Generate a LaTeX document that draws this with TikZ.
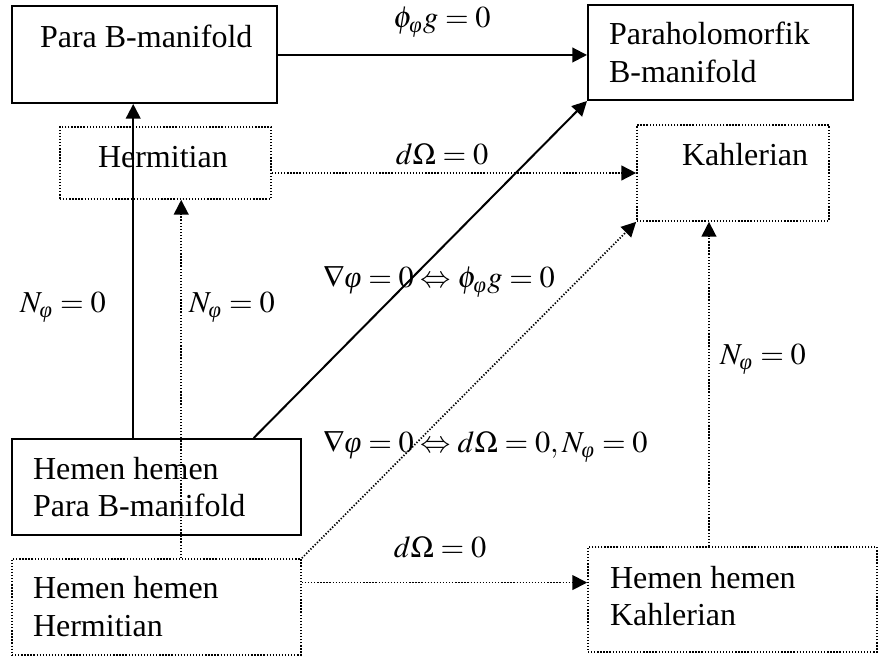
\documentclass[tikz,border=0pt]{standalone}
\usepackage{amsmath}
\usepackage{mathptmx}
\usepackage[no-math]{fontspec}
\setmainfont{Liberation Serif}
\usetikzlibrary{arrows.meta,fit,calc}
\newcommand{\vph}{\text{\itshape φ}}
\tikzset{
  solidbox/.style={draw, line width=0.75pt, inner sep=0pt},
  dotbox/.style={draw, line width=0.65pt, dash pattern=on 0.5pt off 0.65pt, inner sep=0pt},
  solidarrow/.style={line width=0.75pt, -{Triangle[length=5.5pt,width=5.5pt]}},
  dotarrow/.style={line width=0.65pt, dash pattern=on 0.5pt off 0.65pt, -{Triangle[length=5.5pt,width=5.5pt]}},
  txt/.style={inner sep=0pt, outer sep=0pt, align=left, font=\fontsize{12}{13.8}\selectfont},
  lbl/.style={inner sep=0pt, outer sep=0pt, font=\fontsize{11.4}{13.8}\selectfont}
}
\begin{document}
\begin{tikzpicture}[x=0.375pt, y=-0.375pt]
\useasboundingbox (0,0) rectangle (879,657);
% boxes
\node[solidbox, fit={(12,6) (277,103)}] (pb) {};
\node[solidbox, fit={(588,5) (853,100)}] (ph) {};
\node[dotbox, fit={(60,127) (271,199)}] (her) {};
\node[dotbox, fit={(637,125) (829,221)}] (kah) {};
\node[solidbox, fit={(12,439) (301,535)}] (hpb) {};
\node[dotbox, fit={(12,559) (301,655)}] (hh) {};
\node[dotbox, fit={(588,547) (877,652)}] (hk) {};
% texts
\node[txt, anchor=base west] (tpb) at (40,48) {Para B-manifold};
\node[txt, anchor=base west] (tph1) at (609,45) {Paraholomorfik};
\node[txt, anchor=base west] (tph2) at (609,83) {B-manifold};
\node[txt, anchor=base west] (ther) at (98,168) {Hermitian};
\node[txt, anchor=base west] (tkah) at (682,166) {Kahlerian};
\node[txt, anchor=base west] (thpb1) at (33,480) {Hemen hemen};
\node[txt, anchor=base west] (thpb2) at (33,517) {Para B-manifold};
\node[txt, anchor=base west] (thh1) at (33,598) {Hemen hemen};
\node[txt, anchor=base west] (thh2) at (33,636) {Hermitian};
\node[txt, anchor=base west] (thk1) at (610,588) {Hemen hemen};
\node[txt, anchor=base west] (thk2) at (610,625) {Kahlerian};
% connectors
\draw[solidarrow] (pb.east |- 0,55) -- (ph.west |- 0,55);
\draw[dotarrow] (her.east |- kah.west) -- (kah.west);
\coordinate (a1) at ($(hpb.north west)!0.42!(hpb.north east)$);
\draw[solidarrow] (a1) -- (a1 |- pb.south);
\coordinate (a2) at ($(hh.north west)!0.585!(hh.north east)$);
\draw[dotarrow] (a2) -- (a2 |- her.south);
\coordinate (a3) at ($(hpb.north west)!0.834!(hpb.north east)$);
\draw[solidarrow] (a3) -- (ph.south west);
\draw[dotarrow] (hh.north east) -- (kah.south west);
\coordinate (a4) at ($(hh.north east)!0.25!(hh.south east)$);
\draw[dotarrow] (a4) -- (a4 -| hk.west);
\coordinate (a5) at ($(hk.north west)!0.419!(hk.north east)$);
\draw[dotarrow] (a5) -- (a5 |- kah.south);
% labels
\node[lbl, anchor=base] (l1) at (442,28) {$\phi_{\vph} g = 0$};
\node[lbl, anchor=base] (l2) at (442,165) {$d\Omega = 0$};
\node[lbl, anchor=base] (l3) at (440,558) {$d\Omega = 0$};
\node[lbl, anchor=base] (l4) at (63,313) {$N_{\vph} = 0$};
\node[lbl, anchor=base] (l5) at (232,313) {$N_{\vph} = 0$};
\node[lbl, anchor=base] (l6) at (763,365) {$N_{\vph} = 0$};
\node[lbl, anchor=base west] (l7) at (323,288) {$\nabla\vph = 0 \Leftrightarrow \phi_{\vph} g = 0$};
\node[lbl, anchor=base west] (l8) at (323,453) {$\nabla\vph = 0 \Leftrightarrow d\Omega = 0, N_{\vph} = 0$};
\end{tikzpicture}
\end{document}
